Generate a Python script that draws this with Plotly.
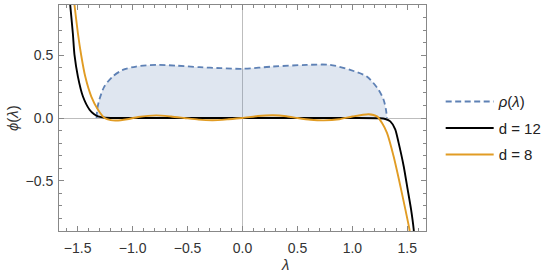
import plotly.graph_objects as go

# ---- data ----
rho_x = [-1.328, -1.322, -1.303, -1.258, -1.182, -1.09, -0.968, -0.785, -0.603, -0.39, -0.2, 0.0,
         0.28, 0.584, 0.797, 0.98, 1.132, 1.238, 1.284, 1.305, 1.315]
rho_y = [0.0, 0.07, 0.145, 0.25, 0.33, 0.383, 0.41, 0.423, 0.417, 0.405, 0.397, 0.392,
         0.41, 0.423, 0.423, 0.383, 0.33, 0.225, 0.145, 0.07, 0.0]

d12_x = [-1.572, -1.568, -1.544, -1.529, -1.498, -1.452, -1.392, -1.35, -1.315, -1.25, -1.0, -0.5,
         0.0, 0.5, 1.0, 1.25, 1.3, 1.345, 1.39, 1.421, 1.467, 1.503, 1.534, 1.558, 1.562]
d12_y = [0.93, 0.9, 0.675, 0.502, 0.33, 0.171, 0.066, 0.03, 0.013, 0.002, 0.0, 0.0,
         0.0, 0.0, 0.0, -0.002, -0.008, -0.027, -0.09, -0.198, -0.384, -0.569, -0.728, -0.886, -0.93]

d8_x = [-1.533, -1.529, -1.498, -1.468, -1.431, -1.376, -1.315, -1.255, -1.2, -1.15, -1.05, -0.95,
        -0.785, -0.65, -0.53, -0.4, -0.27, -0.13, 0.0, 0.14, 0.28, 0.4, 0.5, 0.62, 0.74, 0.88,
        1.0, 1.147, 1.224, 1.27, 1.315, 1.375, 1.437, 1.482, 1.519, 1.524]
d8_y = [0.93, 0.9, 0.675, 0.5, 0.33, 0.171, 0.066, 0.0, -0.017, -0.02, -0.01, 0.008,
        0.021, 0.012, 0.0, -0.013, -0.018, -0.01, 0.0, 0.016, 0.022, 0.014, 0.0, -0.014, -0.019, -0.01,
        0.012, 0.03, 0.013, -0.04, -0.119, -0.305, -0.543, -0.728, -0.886, -0.93]

x_ticks = [-1.5, -1.0, -0.5, 0.0, 0.5, 1.0, 1.5]
x_ticklabels = ["\u22121.5", "\u22121.0", "\u22120.5", "0.0", "0.5", "1.0", "1.5"]
y_ticks = [-0.5, 0.0, 0.5]
y_ticklabels = ["\u22120.5", "0.0", "0.5"]

BLUE = "#5E81B5"
ORANGE = "#E19C24"
FONT = "Liberation Sans, Arial, sans-serif"

fig = go.Figure()
fig.add_trace(go.Scatter(x=rho_x, y=rho_y, mode="lines", fill="tozeroy",
                         fillcolor="rgba(94,129,181,0.2)", line=dict(width=0, shape="spline", smoothing=0.8),
                         showlegend=False, hoverinfo="skip"))
fig.add_trace(go.Scatter(x=rho_x, y=rho_y, mode="lines", name="<i>ρ</i>(<i>λ</i>)",
                         line=dict(color=BLUE, width=1.8, dash="6px,3.5px", shape="spline", smoothing=0.8),
                         legendgroup="a"))
fig.add_trace(go.Scatter(x=d12_x, y=d12_y, mode="lines", name="d = 12",
                         line=dict(color="black", width=1.9, shape="spline", smoothing=0.6),
                         legendgroup="b"))
fig.add_trace(go.Scatter(x=d8_x, y=d8_y, mode="lines", name="d = 8",
                         line=dict(color=ORANGE, width=1.9, shape="spline", smoothing=0.6),
                         legendgroup="c"))

axis_common = dict(showgrid=False, zeroline=True, zerolinecolor="#bdbdbd", zerolinewidth=1,
                   showline=True, linecolor="#888888", linewidth=1, mirror="ticks",
                   ticks="inside", ticklen=5, tickcolor="#888888", tickwidth=1,
                   tickfont=dict(family=FONT, size=14, color="#333333"))

fig.update_xaxes(range=[-1.67, 1.67], tickvals=x_ticks, ticktext=x_ticklabels,
                 minor=dict(dtick=0.1, ticks="inside", ticklen=3, tickcolor="#888888", showgrid=False),
                 ticklabelstandoff=4, automargin=False, **axis_common)
fig.update_yaxes(range=[-0.9, 0.9], tickvals=y_ticks, ticktext=y_ticklabels,
                 minor=dict(dtick=0.1, ticks="inside", ticklen=3, tickcolor="#888888", showgrid=False),
                 ticklabelstandoff=2, automargin=False, **axis_common)

fig.add_annotation(text="<i>λ</i>", xref="paper", yref="paper", x=(285 - 59) / 367, y=-(264 - 231) / 226,
                   showarrow=False, font=dict(family=FONT, size=15, color="#333333"),
                   xanchor="center", yanchor="middle")
fig.add_annotation(text="<i>ϕ</i>(<i>λ</i>)", xref="paper", yref="paper", x=-(59 - 12) / 367, y=(231 - 118) / 226,
                   showarrow=False, textangle=-90, font=dict(family=FONT, size=15, color="#333333"),
                   xanchor="center", yanchor="middle")

fig.update_layout(
    width=549, height=274,
    margin=dict(l=59, r=123, t=5, b=43, autoexpand=False),
    plot_bgcolor="white", paper_bgcolor="white",
    showlegend=True,
    legend=dict(x=1.04, y=0.645, xanchor="left", yanchor="top", itemwidth=48,
                font=dict(family=FONT, size=15, color="#222222"), tracegroupgap=4,
                bgcolor="rgba(0,0,0,0)"),
)

fig.write_html("out.html", config={"displayModeBar": False},
               post_script="document.body.style.margin='0';document.body.style.padding='0';")
